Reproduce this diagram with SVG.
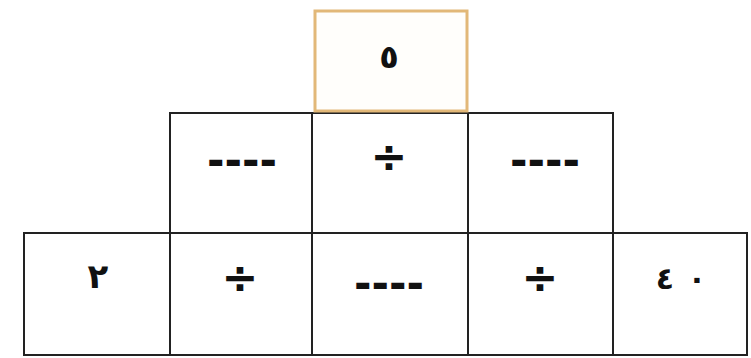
<svg xmlns="http://www.w3.org/2000/svg" width="751" height="358" viewBox="0 0 751 358">
<style>
.cell{fill:#ffffff;stroke:#222222;stroke-width:2}
.top{fill:#fffefb;stroke:#e2b878;stroke-width:3}
.t{font-family:"DejaVu Sans",sans-serif;font-weight:bold;fill:#111111;text-anchor:middle}
.dv{font-size:44px}
.ds{font-size:44px}
</style>
<rect width="751" height="358" fill="#ffffff"/>
<g id="connectors"></g>
<g id="row3">
<g id="c-2"><rect class="cell" x="24" y="233" width="146" height="122"/><text class="t" x="98" y="288" font-size="34" font-weight="normal">٢</text></g>
<g id="c-div1"><rect class="cell" x="170" y="233" width="142" height="122"/><text class="t dv" x="240" y="293">÷</text></g>
<g id="c-blank3"><rect class="cell" x="312" y="233" width="156" height="122"/><text class="t ds" x="389" y="299" textLength="70" lengthAdjust="spacingAndGlyphs">----</text></g>
<g id="c-div2"><rect class="cell" x="468" y="233" width="145" height="122"/><text class="t dv" x="540" y="293">÷</text></g>
<g id="c-40"><rect class="cell" x="613" y="233" width="134" height="122"/><text class="t" x="665" y="289" font-size="30">٤</text><text class="t" x="697" y="289" font-size="30">٠</text></g>
</g>
<g id="row2">
<g id="c-blank1"><rect class="cell" x="170" y="113" width="142" height="120"/><text class="t ds" x="242" y="176" textLength="70" lengthAdjust="spacingAndGlyphs">----</text></g>
<g id="c-div3"><rect class="cell" x="312" y="113" width="156" height="120"/><text class="t dv" x="389" y="172">÷</text></g>
<g id="c-blank2"><rect class="cell" x="468" y="113" width="145" height="120"/><text class="t ds" x="545" y="176" textLength="70" lengthAdjust="spacingAndGlyphs">----</text></g>
</g>
<g id="row1">
<g id="c-5"><rect class="top" x="315" y="11" width="152" height="100"/><text class="t" x="389" y="68" font-size="32">٥</text></g>
</g>
</svg>
